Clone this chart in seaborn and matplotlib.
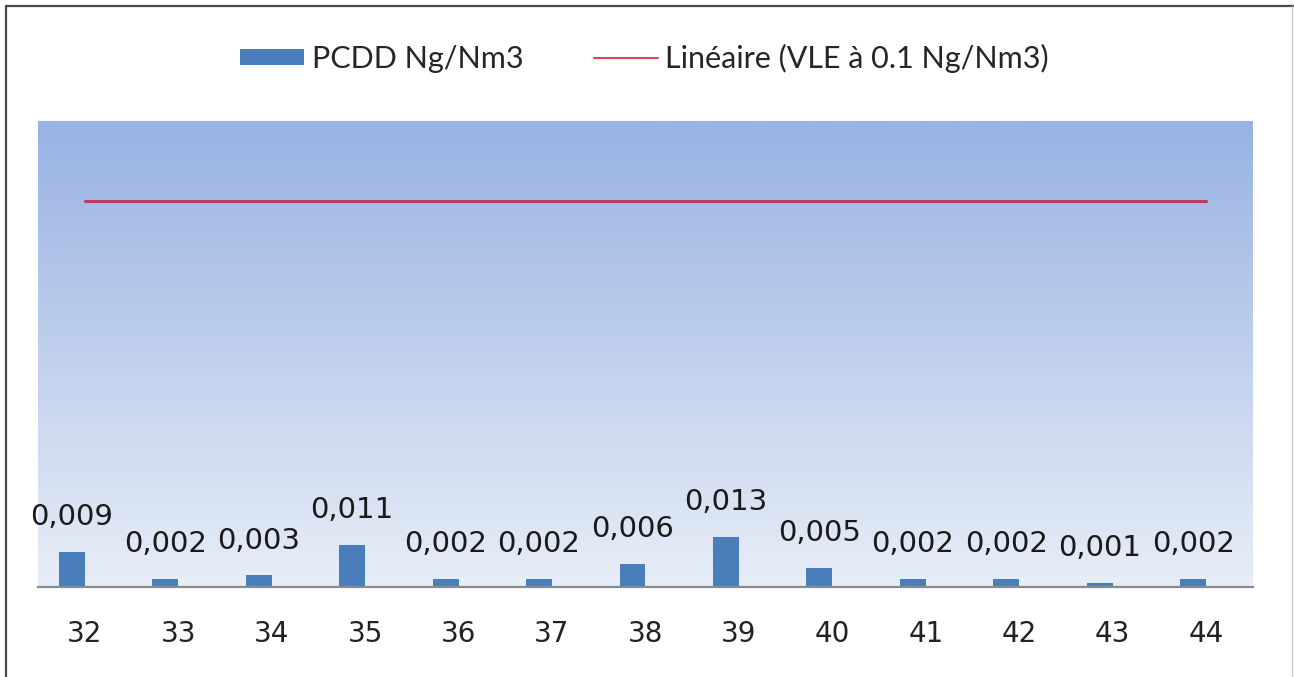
import numpy as np
import pandas as pd
import matplotlib
matplotlib.use("Agg")
import matplotlib.pyplot as plt
import seaborn as sns
from matplotlib.patches import Patch
from matplotlib.lines import Line2D

categories = ["32", "33", "34", "35", "36", "37", "38", "39", "40", "41", "42", "43", "44"]
pcdd = [0.009, 0.002, 0.003, 0.011, 0.002, 0.002, 0.006, 0.013, 0.005, 0.002, 0.002, 0.001, 0.002]
vle = [0.1] * len(categories)
series_name = "PCDD Ng/Nm3"
line_name = "Linéaire (VLE à 0.1 Ng/Nm3)"

sns.set_theme(style="white")
plt.rcParams["font.family"] = ["DejaVu Sans"]

bar_color = "#4a7ebb"
line_color = "#b8405c"

df = pd.DataFrame({
    "cat": categories * 2,
    "val": pcdd + [0.0] * len(categories),
    "series": [series_name] * len(categories) + ["_gap"] * len(categories),
})

fig = plt.figure(figsize=(12.94, 6.77), dpi=100)
ax = fig.add_axes([38 / 1294, 90 / 677, (1253 - 38) / 1294, (587 - 121) / 677])

# gradient background
grad = np.linspace(0, 1, 256).reshape(-1, 1)
top = np.array([152, 178, 227]) / 255
bot = np.array([232, 238, 247]) / 255
img = top[None, None, :] * (1 - grad[:, :, None]) + bot[None, None, :] * grad[:, :, None]
ax.imshow(img, extent=[0, 1, 0, 1], transform=ax.transAxes, aspect="auto", zorder=0)

sns.barplot(data=df, x="cat", y="val", hue="series", order=categories,
            hue_order=[series_name, "_gap"], palette=[bar_color, bar_color],
            width=0.556, dodge=True, legend=False, ax=ax, zorder=2, linewidth=0,
            saturation=1)

ax.bar_label(ax.containers[0], labels=[f"{v:.3f}".replace(".", ",") for v in pcdd],
             padding=15, fontsize=21, color="#1a1a1a")

sns.lineplot(x=np.arange(len(categories)), y=vle, color=line_color, linewidth=2.2,
             ax=ax, zorder=3)

ax.set_xlim(-0.5, len(categories) - 0.5)
ax.set_ylim(0, 0.1207)
ax.set_xlabel("")
ax.set_ylabel("")
ax.set_yticks([])
ax.tick_params(axis="x", length=0, pad=24, labelsize=20, labelcolor="#222222")
for s in ["top", "left", "right"]:
    ax.spines[s].set_visible(False)
ax.spines["bottom"].set_color("#8a8a8a")
ax.spines["bottom"].set_linewidth(1.6)
ax.spines["bottom"].set_zorder(4)

handles = [Patch(facecolor=bar_color, edgecolor="none"),
           Line2D([0], [0], color="#d9455e", linewidth=1.5)]
fig.legend(handles, [series_name, line_name], loc="center", bbox_to_anchor=(0.498, 0.914),
           ncol=2, frameon=False, handlelength=2.1, handleheight=0.45,
           handletextpad=0.25, columnspacing=2.3,
           prop={"family": ["Lato", "DejaVu Sans"], "size": 22})

# scanned frame
fig.add_artist(Line2D([6 / 1294, 1.0], [1 - 6 / 677, 1 - 6 / 677], transform=fig.transFigure,
                      color="#4a4a4a", linewidth=1.6))
fig.add_artist(Line2D([6 / 1294, 6 / 1294], [0, 1 - 6 / 677], transform=fig.transFigure,
                      color="#4a4a4a", linewidth=1.6))
fig.add_artist(Line2D([1292 / 1294, 1292 / 1294], [0, 1 - 6 / 677], transform=fig.transFigure,
                      color="#cccccc", linewidth=1.0))

fig.savefig("out.png", dpi=100, facecolor="white")
